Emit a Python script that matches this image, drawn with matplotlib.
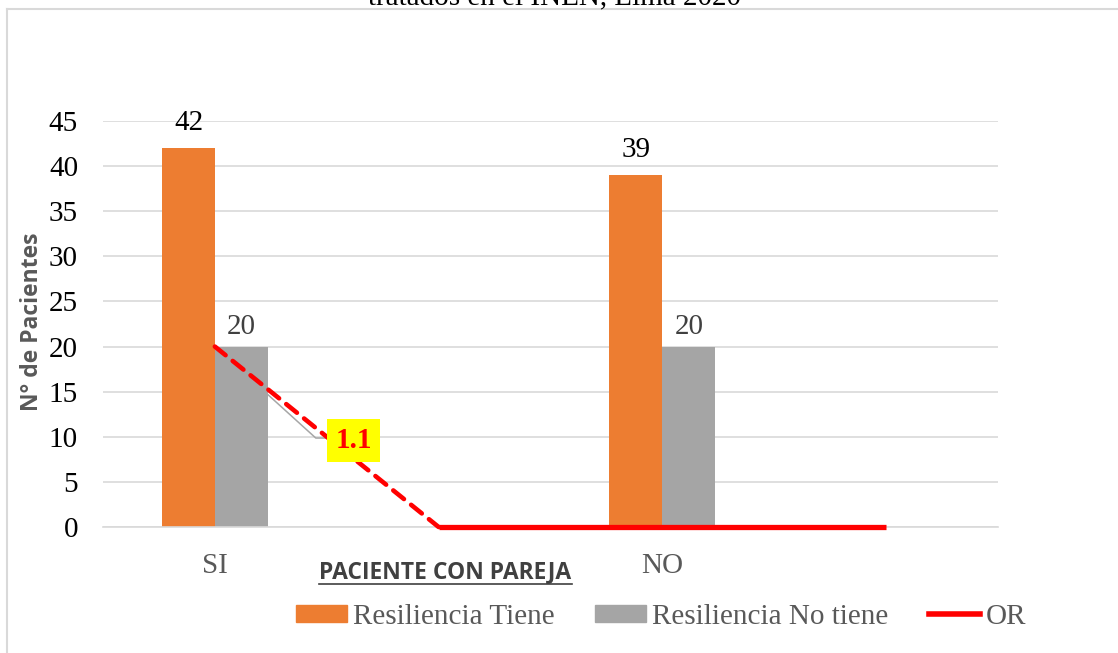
import matplotlib
matplotlib.use("Agg")
import matplotlib.pyplot as plt
from matplotlib.lines import Line2D
from matplotlib.patches import Patch

# Data
categories = ["SI", "", "NO", ""]
tiene = [42, None, 39, None]
no_tiene = [20, None, 20, None]
or_values = [20, 0, 0, 0]
or_label = "1.1"
yticks = [0, 5, 10, 15, 20, 25, 30, 35, 40, 45]

W, H = 1118, 653
fig = plt.figure(figsize=(W / 100, H / 100), dpi=100)
ax = fig.add_axes([103 / W, (H - 527) / H, (998 - 103) / W, (527 - 121) / H])

serif = "Liberation Serif"
orange = "#ED7D31"
gray = "#A5A5A5"
red = "#FF0000"
txtgray = "#595959"
FS = 21

x = list(range(len(categories)))
bw = 0.237
off = 0.118
for i, (t, n) in enumerate(zip(tiene, no_tiene)):
    if t is not None:
        ax.bar(i - off, t, width=bw, color=orange, zorder=2)
        ax.annotate(str(t), (i - off, t), xytext=(0, 9), textcoords="offset points",
                    ha="center", va="bottom", fontsize=FS, family=serif, color="#000000",
                    annotation_clip=False)
    if n is not None:
        ax.bar(i + off, n, width=bw, color=gray, zorder=2)
        ax.annotate(str(n), (i + off, n), xytext=(0, 5), textcoords="offset points",
                    ha="center", va="bottom", fontsize=FS, family=serif, color="#404040")

# OR line: dashed first segment, solid rest
ax.plot(x[:2], or_values[:2], color=red, lw=3.3, ls=(0, (3, 2.0)), zorder=4,
        solid_capstyle="round", dash_capstyle="round", clip_on=False)
ax.plot(x[1:], or_values[1:], color=red, lw=3.8, zorder=4, solid_capstyle="butt",
        clip_on=False)

# leader line and label
ax.plot([0, 0.451, 0.505], [or_values[0], 9.86, 9.86], color="#A6A6A6", lw=1.1, zorder=3)
ax.text(0.621, 9.6, or_label, ha="center", va="center", fontsize=FS, family=serif,
        weight="bold", color=red, zorder=5,
        bbox=dict(boxstyle="square,pad=0.28", fc="#FFFF00", ec="none"))

ax.set_xlim(-0.5, 3.5)
ax.set_ylim(0, 45)
ax.set_yticks(yticks)
ax.set_xticks(x)
ax.set_xticklabels(categories)
ax.grid(axis="y", color="#D9D9D9", lw=1.2, zorder=0)
ax.set_axisbelow(True)
for s in ["top", "right", "left"]:
    ax.spines[s].set_visible(False)
ax.spines["bottom"].set_color("#D9D9D9")
ax.spines["bottom"].set_linewidth(1.2)
ax.tick_params(axis="y", length=0, pad=18, labelsize=FS, labelcolor="#000000")
ax.tick_params(axis="x", length=0, pad=19, labelsize=FS, labelcolor=txtgray)
for lbl in ax.get_yticklabels() + ax.get_xticklabels():
    lbl.set_family(serif)

# axis titles
fig.text(445 / W, 1 - 572 / H, "PACIENTE CON PAREJA", ha="center", va="center",
         fontsize=16.5, weight="bold", color="#404040", family="Open Sans")
fig.add_artist(Line2D([319 / W, 572 / W], [1 - 584 / H, 1 - 584 / H], color="#404040", lw=1.2))
fig.text(32 / W, 1 - 322 / H, "N° de Pacientes", ha="center", va="center", rotation=90,
         fontsize=16.5, weight="bold", color=txtgray, family="Open Sans")

# title (cut at the top, as in the reference)
fig.text(555 / W, 1 - 4 / H, "tratados en el INEN, Lima 2020", ha="center", va="baseline",
         fontsize=FS, family=serif, color="#000000")

# frame
fig.add_artist(Line2D([7 / W, 1], [1 - 9 / H, 1 - 9 / H], color="#D9D9D9", lw=1.5))
fig.add_artist(Line2D([7 / W, 7 / W], [0, 1 - 9 / H], color="#D9D9D9", lw=1.5))

# legend
handles = [Patch(color=orange, label="Resiliencia Tiene"),
           Patch(color=gray, label="Resiliencia No tiene"),
           Line2D([0], [0], color=red, lw=4, label="OR")]
leg = fig.legend(handles=handles, loc="center", bbox_to_anchor=(661 / W, 1 - 617 / H),
                 ncol=3, frameon=False, handlelength=1.75, handleheight=0.55,
                 handletextpad=0.2, columnspacing=1.4,
                 prop={"family": serif, "size": FS})
for t in leg.get_texts():
    t.set_color(txtgray)

fig.savefig("out.png", dpi=100)
